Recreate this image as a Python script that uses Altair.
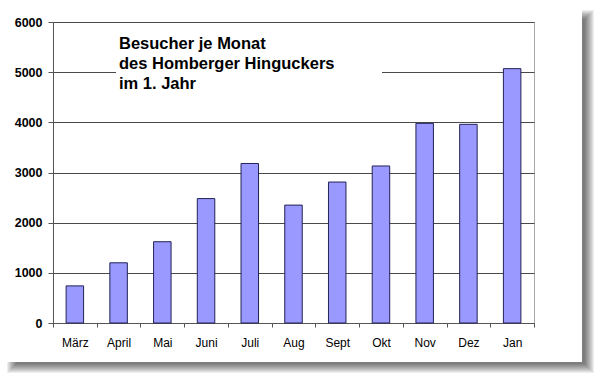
import altair as alt
import pandas as pd

months = ["März", "April", "Mai", "Juni", "Juli", "Aug", "Sept", "Okt", "Nov", "Dez", "Jan"]
visitors = [740, 1200, 1620, 2480, 3180, 2350, 2810, 3130, 3980, 3960, 5070]
y_ticks = [0, 1000, 2000, 3000, 4000, 5000, 6000]
title_lines = ["Besucher je Monat", "des Homberger Hinguckers", "im 1. Jahr"]

df = pd.DataFrame({"Monat": months, "Besucher": visitors})
one = pd.DataFrame({"k": [0]})

W, H = 481, 301
FONT = "Liberation Sans"

x_enc = alt.X(
    "Monat:N", sort=months,
    scale=alt.Scale(paddingInner=0, paddingOuter=0),
    axis=alt.Axis(title=None, labelAngle=0, labelFont=FONT, labelFontSize=12,
                  labelColor="black", labelPadding=10, tickBand="extent",
                  tickSize=4, tickColor="#555555", domainColor="#555555", grid=False),
)
y_enc = alt.Y(
    "Besucher:Q",
    scale=alt.Scale(domain=[0, 6000], nice=False),
    axis=alt.Axis(title=None, values=y_ticks, format="d", labelFont=FONT,
                  labelFontSize=12.5, labelFontWeight="bold", labelColor="black",
                  labelPadding=6, tickSize=5, tickColor="#555555",
                  domainColor="#555555", gridColor="#4a4a4a", gridWidth=1),
)

bars = alt.Chart(df).mark_bar(
    width=alt.RelativeBandSize(0.4), color="#9999FF", stroke="#222255", strokeWidth=1
).encode(x=x_enc, y=y_enc)

# decorative drop shadow (right and bottom strips)
shadow_layers = []
for i in range(10):
    shadow_layers.append(
        alt.Chart(one).mark_rect(color="black", opacity=0.065).encode(
            x=alt.value(529), x2=alt.value(541 - i),
            y=alt.value(-12 + i), y2=alt.value(351 - i))
    )
    shadow_layers.append(
        alt.Chart(one).mark_rect(color="black", opacity=0.065).encode(
            x=alt.value(-46 + i), x2=alt.value(529),
            y=alt.value(340), y2=alt.value(351 - i))
    )

title_box = alt.Chart(one).mark_rect(color="white").encode(
    x=alt.value(63), x2=alt.value(329), y=alt.value(8), y2=alt.value(72))

title_text = alt.Chart(one).mark_text(
    align="left", baseline="alphabetic", font=FONT, fontSize=16.5,
    fontWeight="bold", lineBreak="\n", lineHeight=20, color="black"
).encode(x=alt.value(66), y=alt.value(27), text=alt.value("\n".join(title_lines)))

chart = alt.layer(*shadow_layers, title_box, bars, title_text).properties(
    width=W, height=H,
    autosize=alt.AutoSizeParams(type="none"),
    padding={"left": 53, "top": 22, "right": 61, "bottom": 53},
    background="white",
).configure_view(stroke="#a8a8a8", strokeWidth=1)

chart.save("out.html", embed_options={"renderer": "svg", "actions": False})
